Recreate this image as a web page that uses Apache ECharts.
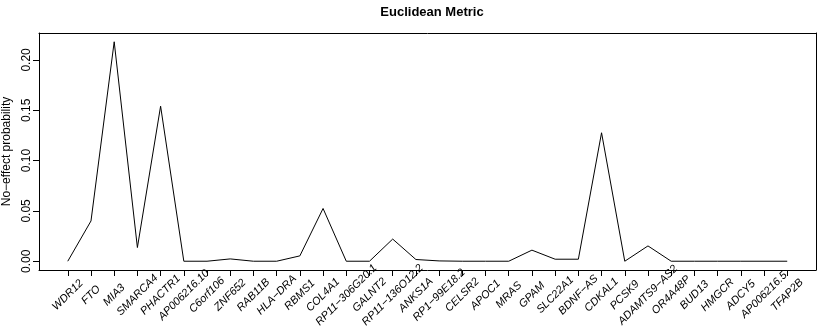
<!DOCTYPE html>
<html>
<head>
<meta charset="utf-8">
<title>Euclidean Metric</title>
<script src="https://cdn.jsdelivr.net/npm/echarts@6/dist/echarts.min.js"></script>
<style>
  html, body { margin: 0; padding: 0; background: #fff; }
  #main { width: 817px; height: 327px; }
</style>
</head>
<body>
<div id="main"></div>
<script>
// 基因名（x轴）
var genes = ['WDR12', 'FTO', 'MIA3', 'SMARCA4', 'PHACTR1', 'AP006216.10', 'C6orf106', 'ZNF652',
  'RAB11B', 'HLA\u2212DRA', 'RBMS1', 'COL4A1', 'RP11\u2212306G20.1', 'GALNT2', 'RP11\u2212136O12.2',
  'ANKS1A', 'RP1\u221299E18.2', 'CELSR2', 'APOC1', 'MRAS', 'GPAM', 'SLC22A1', 'BDNF\u2212AS',
  'CDKAL1', 'PCSK9', 'ADAMTS9\u2212AS2', 'OR4A48P', 'BUD13', 'HMGCR', 'ADCY5', 'AP006216.5', 'TFAP2B'];

// 无效应概率
var probs = [0.000, 0.040, 0.218, 0.0136, 0.154, 0.000, 0.000, 0.0023,
  0.000, 0.000, 0.0053, 0.0524, 0.000, 0.000, 0.022,
  0.0017, 0.0003, 0.000, 0.000, 0.000, 0.011, 0.002, 0.002,
  0.1276, 0.000, 0.0152, 0.000, 0.000, 0.000, 0.000, 0.000, 0.000];

// y轴刻度
var yTicks = [0, 0.05, 0.10, 0.15, 0.20];

var myChart = echarts.init(document.getElementById('main'));

var xIdx = genes.map(function (g, i) { return i; });
var points = probs.map(function (v, i) { return [i, v]; });

// R 风格：坐标范围两端各扩展 4%
var xPad = (genes.length - 1) * 0.04;
var yMax = Math.max.apply(null, probs);
var yPad = yMax * 0.04;

var black = { color: '#000', width: 1 };
// 只画边框用的轴
var frameAxis = {
  axisLine: { show: true, onZero: false, lineStyle: black },
  axisTick: { show: false },
  axisLabel: { show: false },
  splitLine: { show: false }
};

var option = {
  animation: false,
  backgroundColor: '#fff',
  textStyle: { fontFamily: 'Liberation Sans' },
  title: {
    text: 'Euclidean Metric',
    left: 427,
    top: 1,
    textAlign: 'center',
    textStyle: { fontSize: 13, fontWeight: 'bold', color: '#000', fontFamily: 'Liberation Sans' }
  },
  grid: {
    left: 39, right: 1, top: 33, bottom: 57,
    outerBoundsMode: 'none',
    containLabel: false
  },
  xAxis: [{
    type: 'value',
    position: 'bottom',
    min: -xPad,
    max: genes.length - 1 + xPad,
    axisLine: { show: true, onZero: false, lineStyle: black },
    splitLine: { show: false },
    axisTick: { show: true, length: 6, lineStyle: black, customValues: xIdx },
    axisLabel: {
      customValues: xIdx,
      rotate: 45,
      align: 'center',
      verticalAlign: 'middle',
      margin: 25,
      fontSize: 11,
      fontStyle: 'italic',
      color: '#000',
      formatter: function (v) { return genes[Math.round(v)]; }
    }
  }, Object.assign({
    type: 'value',
    position: 'top',
    min: -xPad,
    max: genes.length - 1 + xPad
  }, frameAxis)],
  yAxis: [{
    type: 'value',
    position: 'left',
    min: -yPad,
    max: yMax + yPad,
    name: 'No\u2212effect probability',
    nameLocation: 'middle',
    nameGap: 25,
    nameTextStyle: { fontSize: 12, color: '#000' },
    axisLine: { show: true, onZero: false, lineStyle: black },
    splitLine: { show: false },
    axisTick: { show: true, length: 6, lineStyle: black, customValues: yTicks },
    axisLabel: {
      customValues: yTicks,
      rotate: 90,
      align: 'center',
      verticalAlign: 'bottom',
      margin: 6,
      fontSize: 12,
      color: '#000',
      formatter: function (v) { return v.toFixed(2); }
    }
  }, Object.assign({
    type: 'value',
    position: 'right',
    min: -yPad,
    max: yMax + yPad
  }, frameAxis)],
  series: [{
    type: 'line',
    data: points,
    showSymbol: false,
    symbol: 'none',
    lineStyle: { color: '#000', width: 1 }
  }]
};

myChart.setOption(option);
</script>
</body>
</html>
